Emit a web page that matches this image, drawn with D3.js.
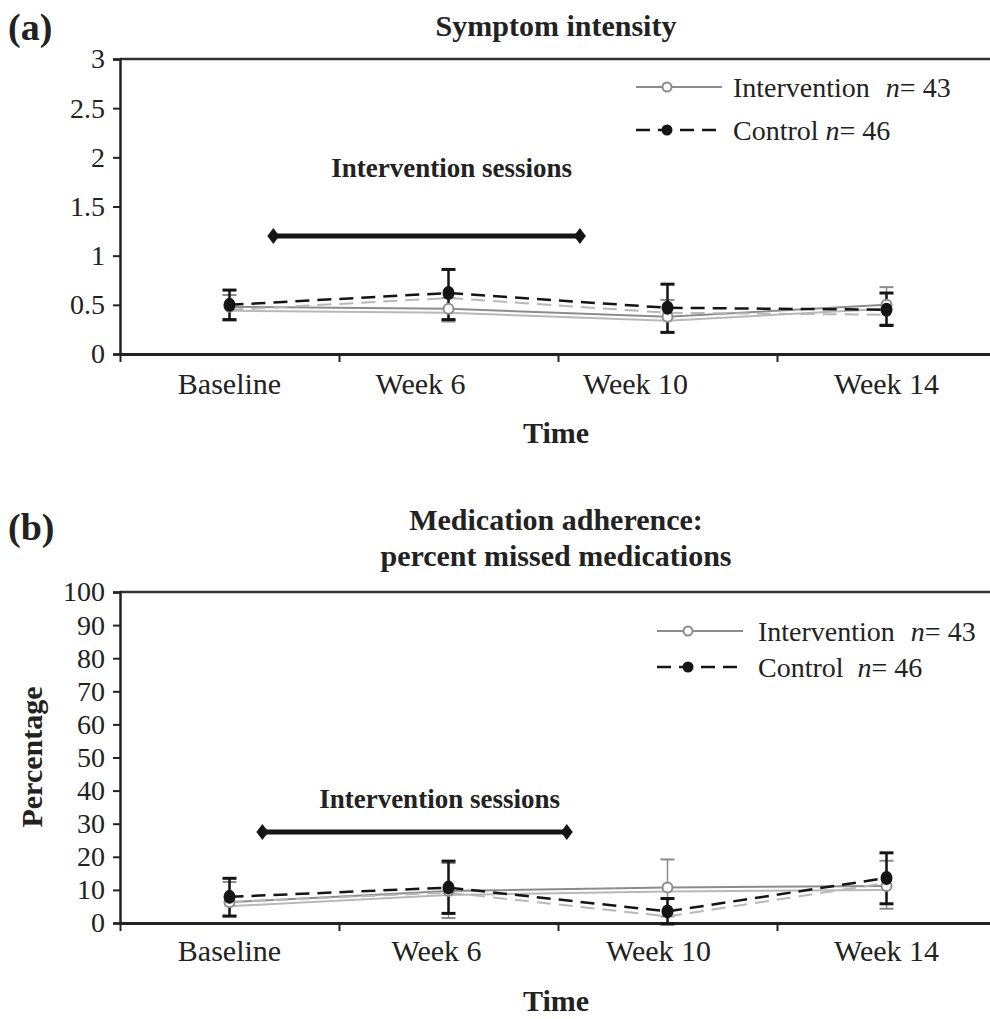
<!DOCTYPE html>
<html>
<head>
<meta charset="utf-8">
<script src="https://cdn.jsdelivr.net/npm/d3@7"></script>
<style>
  body { margin: 0; background: #fff; }
  svg, svg text { font-family: "Liberation Serif", "Times New Roman", serif; }
  .axis path, .axis line { stroke: #222; }
</style>
</head>
<body>
<svg id="chart" width="990" height="1019"></svg>
<script>
// time points on the x axis
var timePoints = ["Baseline", "Week 6", "Week 10", "Week 14"];

// (a) symptom intensity
var symptomTicks = [0, 0.5, 1, 1.5, 2, 2.5, 3];
var symptomInt   = [0.48, 0.46, 0.38, 0.50];
var symptomIntLo = [0.34, 0.33, 0.22, 0.30];
var symptomIntHi = [0.60, 0.57, 0.55, 0.68];
var symptomCon   = [0.50, 0.62, 0.47, 0.45];
var symptomConLo = [0.35, 0.35, 0.22, 0.29];
var symptomConHi = [0.65, 0.86, 0.71, 0.62];
var symptomSession = [0.2, 1.6];   // in time-point units
var symptomSessionLevel = 1.2;

// (b) medication adherence, percent missed
var adherenceTicks = [0, 10, 20, 30, 40, 50, 60, 70, 80, 90, 100];
var adherenceInt   = [6.3, 9.7, 10.7, 11.2];
var adherenceIntLo = [2.0, 1.5, 2.0, 4.3];
var adherenceIntHi = [12.4, 18.1, 19.2, 18.8];
var adherenceCon   = [7.9, 10.7, 3.5, 13.6];
var adherenceConLo = [2.1, 2.9, -0.3, 5.8];
var adherenceConHi = [13.5, 18.7, 7.4, 21.2];
var adherenceSession = [0.15, 1.54];
var adherenceSessionLevel = 27.5;

var svg = d3.select("#chart");
svg.append("rect").attr("width", 990).attr("height", 1019).attr("fill", "#fff");

var grey = "#8c8c8c", ghost = "#b8b8b8", black = "#151515";
var serif = '"Liberation Serif", "Times New Roman", serif';

function drawPanel(cfg){
    var g = svg.append("g").attr("font-family", serif);
    var x = d3.scaleLinear().domain([-0.5, 3.5]).range([120, 996]);
    var y = d3.scaleLinear().domain([cfg.ticks[0], cfg.ticks[cfg.ticks.length-1]]).range([cfg.bottom, cfg.top]);

    // top frame line
    g.append("line")
        .attr("x1", 120).attr("x2", 996)
        .attr("y1", y(cfg.ticks[cfg.ticks.length-1])).attr("y2", y(cfg.ticks[cfg.ticks.length-1]))
        .attr("stroke", "#333").attr("stroke-width", 2.5);

    var yAxis = d3.axisLeft(y).tickValues(cfg.ticks).tickSize(7).tickPadding(8).tickFormat(function(d){ return d; });
    var ya = g.append("g").attr("class", "axis").attr("transform", "translate(120,0)").call(yAxis)
        .attr("font-family", serif);
    ya.select(".domain").attr("stroke-width", 2.5);
    ya.selectAll(".tick line").attr("stroke-width", 2);
    ya.selectAll("text").attr("font-size", 28).attr("fill", "#222").style("font-family", serif);

    var xAxis = d3.axisBottom(x).tickValues([-0.5, 0.5, 1.5, 2.5]).tickSize(8).tickSizeOuter(0).tickFormat("");
    var xa = g.append("g").attr("class", "axis").attr("transform", "translate(0," + cfg.bottom + ")").call(xAxis);
    xa.select(".domain").attr("stroke-width", 3);
    xa.selectAll(".tick line").attr("stroke-width", 2);

    // category labels (Excel staggers some of them a bit to the left)
    g.selectAll(".xlab").data(timePoints).enter().append("text")
        .attr("x", function(d, i){ return x(i) + cfg.labelShift[i]; })
        .attr("y", cfg.bottom + cfg.labelDrop)
        .attr("text-anchor", "middle")
        .attr("font-size", 30).attr("fill", "#222")
        .text(function(d){ return d; });

    // panel title, letter and axis titles
    g.append("text").attr("x", 8).attr("y", cfg.letterY).attr("font-size", 38).attr("font-weight", "bold")
        .attr("fill", "#222").text(cfg.letter);
    cfg.title.forEach(function(t, i){
        g.append("text").attr("x", 556).attr("y", cfg.titleY + i*36).attr("text-anchor", "middle")
            .attr("font-size", 30).attr("font-weight", "bold").attr("fill", "#222").text(t);
    });
    g.append("text").attr("x", 556).attr("y", cfg.bottom + cfg.timeDrop).attr("text-anchor", "middle")
        .attr("font-size", 30).attr("font-weight", "bold").attr("fill", "#222").text("Time");

    // intervention sessions marker
    var sy = y(cfg.sessionLevel);
    g.append("line")
        .attr("x1", x(cfg.session[0])).attr("x2", x(cfg.session[1]))
        .attr("y1", sy).attr("y2", sy)
        .attr("stroke", black).attr("stroke-width", 5);
    g.selectAll(".diam").data(cfg.session).enter().append("path")
        .attr("d", "M0,-8L6,0L0,8L-6,0Z")
        .attr("transform", function(d){ return "translate(" + x(d) + "," + sy + ")"; })
        .attr("fill", black);
    g.append("text")
        .attr("x", (x(cfg.session[0]) + x(cfg.session[1]))/2 + cfg.sessionTextShift)
        .attr("y", sy - cfg.sessionTextUp)
        .attr("text-anchor", "middle")
        .attr("font-size", 27).attr("font-weight", "bold").attr("fill", "#222")
        .text("Intervention sessions");

    var line = d3.line().x(function(d, i){ return x(i); }).y(function(d){ return y(d); });

    function errorBars(mid, lo, hi, color, width){
        var eb = g.append("g");
        mid.forEach(function(m, i){
            var cx = x(i);
            eb.append("line").attr("x1", cx).attr("x2", cx).attr("y1", y(lo[i])).attr("y2", y(hi[i]))
                .attr("stroke", color).attr("stroke-width", width);
            [lo[i], hi[i]].forEach(function(v){
                eb.append("line").attr("x1", cx - 7).attr("x2", cx + 7).attr("y1", y(v)).attr("y2", y(v))
                    .attr("stroke", color).attr("stroke-width", width + 0.5);
            });
        });
    }

    errorBars(cfg.int, cfg.intLo, cfg.intHi, grey, 1.5);

    // doubled look of the original lines
    g.append("path").datum(cfg.int).attr("d", line).attr("transform", "translate(0,4)")
        .attr("fill", "none").attr("stroke", ghost).attr("stroke-width", 2);
    g.append("path").datum(cfg.int).attr("d", line)
        .attr("fill", "none").attr("stroke", grey).attr("stroke-width", 2);
    g.append("path").datum(cfg.con).attr("d", line).attr("transform", "translate(0,5)")
        .attr("fill", "none").attr("stroke", ghost).attr("stroke-width", 2).attr("stroke-dasharray", "14,8");
    g.append("path").datum(cfg.con).attr("d", line)
        .attr("fill", "none").attr("stroke", black).attr("stroke-width", 2.5).attr("stroke-dasharray", "14,8");

    errorBars(cfg.con, cfg.conLo, cfg.conHi, black, 2.5);

    g.selectAll(".pInt").data(cfg.int).enter().append("circle")
        .attr("cx", function(d, i){ return x(i); }).attr("cy", function(d){ return y(d); })
        .attr("r", 5).attr("fill", "#fff").attr("stroke", grey).attr("stroke-width", 2);
    g.selectAll(".pCon").data(cfg.con).enter().append("ellipse")
        .attr("cx", function(d, i){ return x(i); }).attr("cy", function(d){ return y(d); })
        .attr("rx", 6).attr("ry", 7).attr("fill", black);

    // legend
    var lg = g.append("g").attr("transform", "translate(" + cfg.legendX + "," + cfg.legendY + ")");
    lg.append("line").attr("x1", 0).attr("x2", 86).attr("stroke", grey).attr("stroke-width", 2);
    lg.append("circle").attr("cx", 31).attr("r", 4.5).attr("fill", "#fff").attr("stroke", grey).attr("stroke-width", 2);
    lg.append("line").attr("x1", 0).attr("x2", 86).attr("y1", cfg.legendGap).attr("y2", cfg.legendGap)
        .attr("stroke", black).attr("stroke-width", 2.5).attr("stroke-dasharray", "14,8");
    lg.append("circle").attr("cx", 31).attr("cy", cfg.legendGap).attr("r", 5.5).attr("fill", black);

    var t1 = lg.append("text").attr("x", cfg.legendTextX).attr("y", 10).attr("font-size", 28).attr("fill", "#222");
    t1.append("tspan").text("Intervention");
    t1.append("tspan").attr("dx", 16).attr("font-style", "italic").text("n");
    t1.append("tspan").text("= 43");
    var t2 = lg.append("text").attr("x", cfg.legendTextX).attr("y", cfg.legendGap + 10).attr("font-size", 28).attr("fill", "#222");
    t2.append("tspan").text("Control");
    t2.append("tspan").attr("dx", cfg.controlGap).attr("font-style", "italic").text("n");
    t2.append("tspan").text("= 46");

    return g;
}

drawPanel({
    ticks: symptomTicks, top: 59, bottom: 354,
    int: symptomInt, intLo: symptomIntLo, intHi: symptomIntHi,
    con: symptomCon, conLo: symptomConLo, conHi: symptomConHi,
    session: symptomSession, sessionLevel: symptomSessionLevel, sessionTextShift: 25, sessionTextUp: 59,
    labelShift: [0, -28, -32, 0], labelDrop: 40, timeDrop: 89,
    letter: "(a)", letterY: 40, title: ["Symptom intensity"], titleY: 36,
    legendX: 636, legendY: 87, legendGap: 43, legendTextX: 97, controlGap: 7
});

var gb = drawPanel({
    ticks: adherenceTicks, top: 592, bottom: 923,
    int: adherenceInt, intLo: adherenceIntLo, intHi: adherenceIntHi,
    con: adherenceCon, conLo: adherenceConLo, conHi: adherenceConHi,
    session: adherenceSession, sessionLevel: adherenceSessionLevel, sessionTextShift: 25, sessionTextUp: 24,
    labelShift: [0, -12, -9, 0], labelDrop: 38, timeDrop: 88,
    letter: "(b)", letterY: 540, title: ["Medication adherence:", "percent missed medications"], titleY: 530,
    legendX: 657, legendY: 631, legendGap: 36, legendTextX: 101, controlGap: 14
});

gb.append("text")
    .attr("transform", "translate(42,757) rotate(-90)")
    .attr("text-anchor", "middle")
    .attr("font-size", 30).attr("font-weight", "bold").attr("fill", "#222")
    .text("Percentage");
</script>
</body>
</html>
